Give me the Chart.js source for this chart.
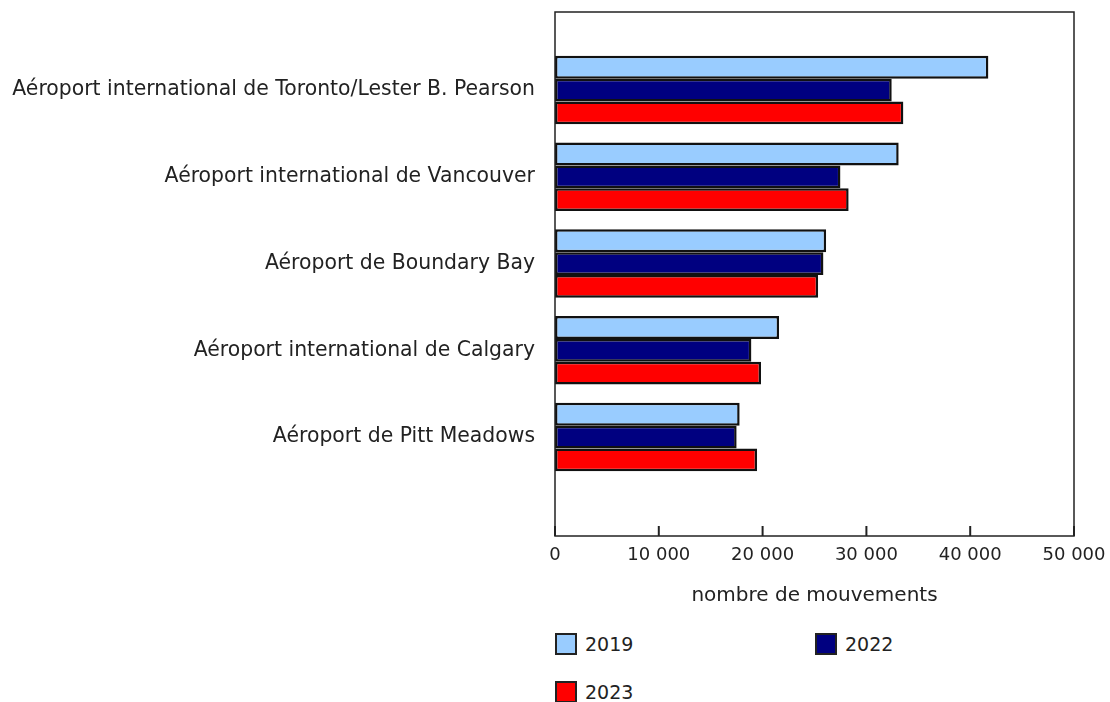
<!DOCTYPE html>
<html>
<head>
<meta charset="utf-8">
<script src="https://cdn.jsdelivr.net/npm/chart.js@4"></script>
<style>
  body { margin: 0; background: #fff; font-family: "DejaVu Sans", Verdana, sans-serif; }
  #wrap { position: relative; width: 1110px; height: 626px; }
  #legend { position: relative; width: 1110px; height: 76px; font-size: 19px; color: #222; }
  .item { position: absolute; display: flex; align-items: center; }
  .box { width: 18px; height: 18px; border: 2px solid #222; margin-right: 8px; }
</style>
</head>
<body>
<div id="wrap"><canvas id="myChart"></canvas></div>
<div id="legend"></div>
<script>
const categories = [
    'Aéroport international de Toronto/Lester B. Pearson',
    'Aéroport international de Vancouver',
    'Aéroport de Boundary Bay',
    'Aéroport international de Calgary',
    'Aéroport de Pitt Meadows'
];
const years = ['2019', '2022', '2023'];
const values2019 = [41750, 33110, 26120, 21590, 17790];
const values2022 = [32440, 27500, 25860, 18920, 17500];
const values2023 = [33560, 28290, 25350, 19850, 19470];
const xTicks = [0, 10000, 20000, 30000, 40000, 50000];
const colors = ['#99CCFF', '#000080', '#FF0000'];

const series = [values2019, values2022, values2023];
const fontFamily = '"DejaVu Sans", Verdana, sans-serif';

// frame around the plot and inward tick marks on the x axis
const framePlugin = {
    id: 'frame',
    afterDraw(chart) {
        const { ctx, chartArea: a, scales } = chart;
        ctx.save();
        ctx.strokeStyle = '#222';
        ctx.lineWidth = 1.5;
        ctx.strokeRect(a.left, a.top, a.right - a.left, a.bottom - a.top);
        ctx.lineWidth = 2;
        scales.x.ticks.forEach(t => {
            const px = scales.x.getPixelForValue(t.value);
            ctx.beginPath();
            ctx.moveTo(px, a.bottom);
            ctx.lineTo(px, a.bottom - 10);
            ctx.stroke();
        });
        ctx.restore();
    }
};

const ctx = document.getElementById('myChart').getContext('2d');
const myChart = new Chart(ctx, {
    type: 'bar',
    data: {
        datasets: series.map((vals, i) => ({
            label: years[i],
            data: vals.map((v, j) => ({ x: v, y: j })),
            backgroundColor: colors[i],
            borderColor: '#111',
            borderWidth: 2.5,
            borderSkipped: false,
            categoryPercentage: 0.79,
            barPercentage: 1.0
        }))
    },
    options: {
        indexAxis: 'y',
        responsive: true,
        maintainAspectRatio: false,
        animation: false,
        layout: { padding: { top: 12, right: 36, left: 0, bottom: 0 } },
        plugins: { legend: { display: false }, tooltip: { enabled: false } },
        scales: {
            y: {
                type: 'linear',
                reverse: true,
                offset: false,
                min: -0.9,
                max: 5.14,
                afterBuildTicks: s => { s.ticks = categories.map((c, i) => ({ value: i })); },
                afterFit: s => { s.width = 555; s.paddingTop = 0; s.paddingBottom = 0; },
                grid: { display: false, drawTicks: false },
                border: { display: false },
                ticks: {
                    autoSkip: false,
                    padding: 20,
                    color: '#222',
                    font: { family: fontFamily, size: 20.4 },
                    callback: v => categories[v]
                }
            },
            x: {
                min: 0,
                max: 50000,
                afterBuildTicks: s => { s.ticks = xTicks.map(v => ({ value: v })); },
                afterFit: s => { s.height = 90; s.paddingLeft = 0; s.paddingRight = 0; },
                grid: { display: false, drawTicks: false },
                border: { display: false },
                ticks: {
                    padding: 9,
                    color: '#222',
                    font: { family: fontFamily, size: 18 },
                    callback: v => String(v).replace(/\B(?=(\d{3})+(?!\d))/g, ' ')
                },
                title: {
                    display: true,
                    text: 'nombre de mouvements',
                    color: '#222',
                    font: { family: fontFamily, size: 20 },
                    padding: { top: 0, bottom: 18 }
                }
            }
        }
    },
    plugins: [framePlugin]
});

// legend in two columns like the original
const legend = document.getElementById('legend');
const legendPos = [[555, 7], [815, 7], [555, 55]];
years.forEach((y, i) => {
    const el = document.createElement('div');
    el.className = 'item';
    el.style.left = legendPos[i][0] + 'px';
    el.style.top = legendPos[i][1] + 'px';
    el.innerHTML = '<span class="box" style="background:' + colors[i] + '"></span>' + y;
    legend.appendChild(el);
});
</script>
</body>
</html>
